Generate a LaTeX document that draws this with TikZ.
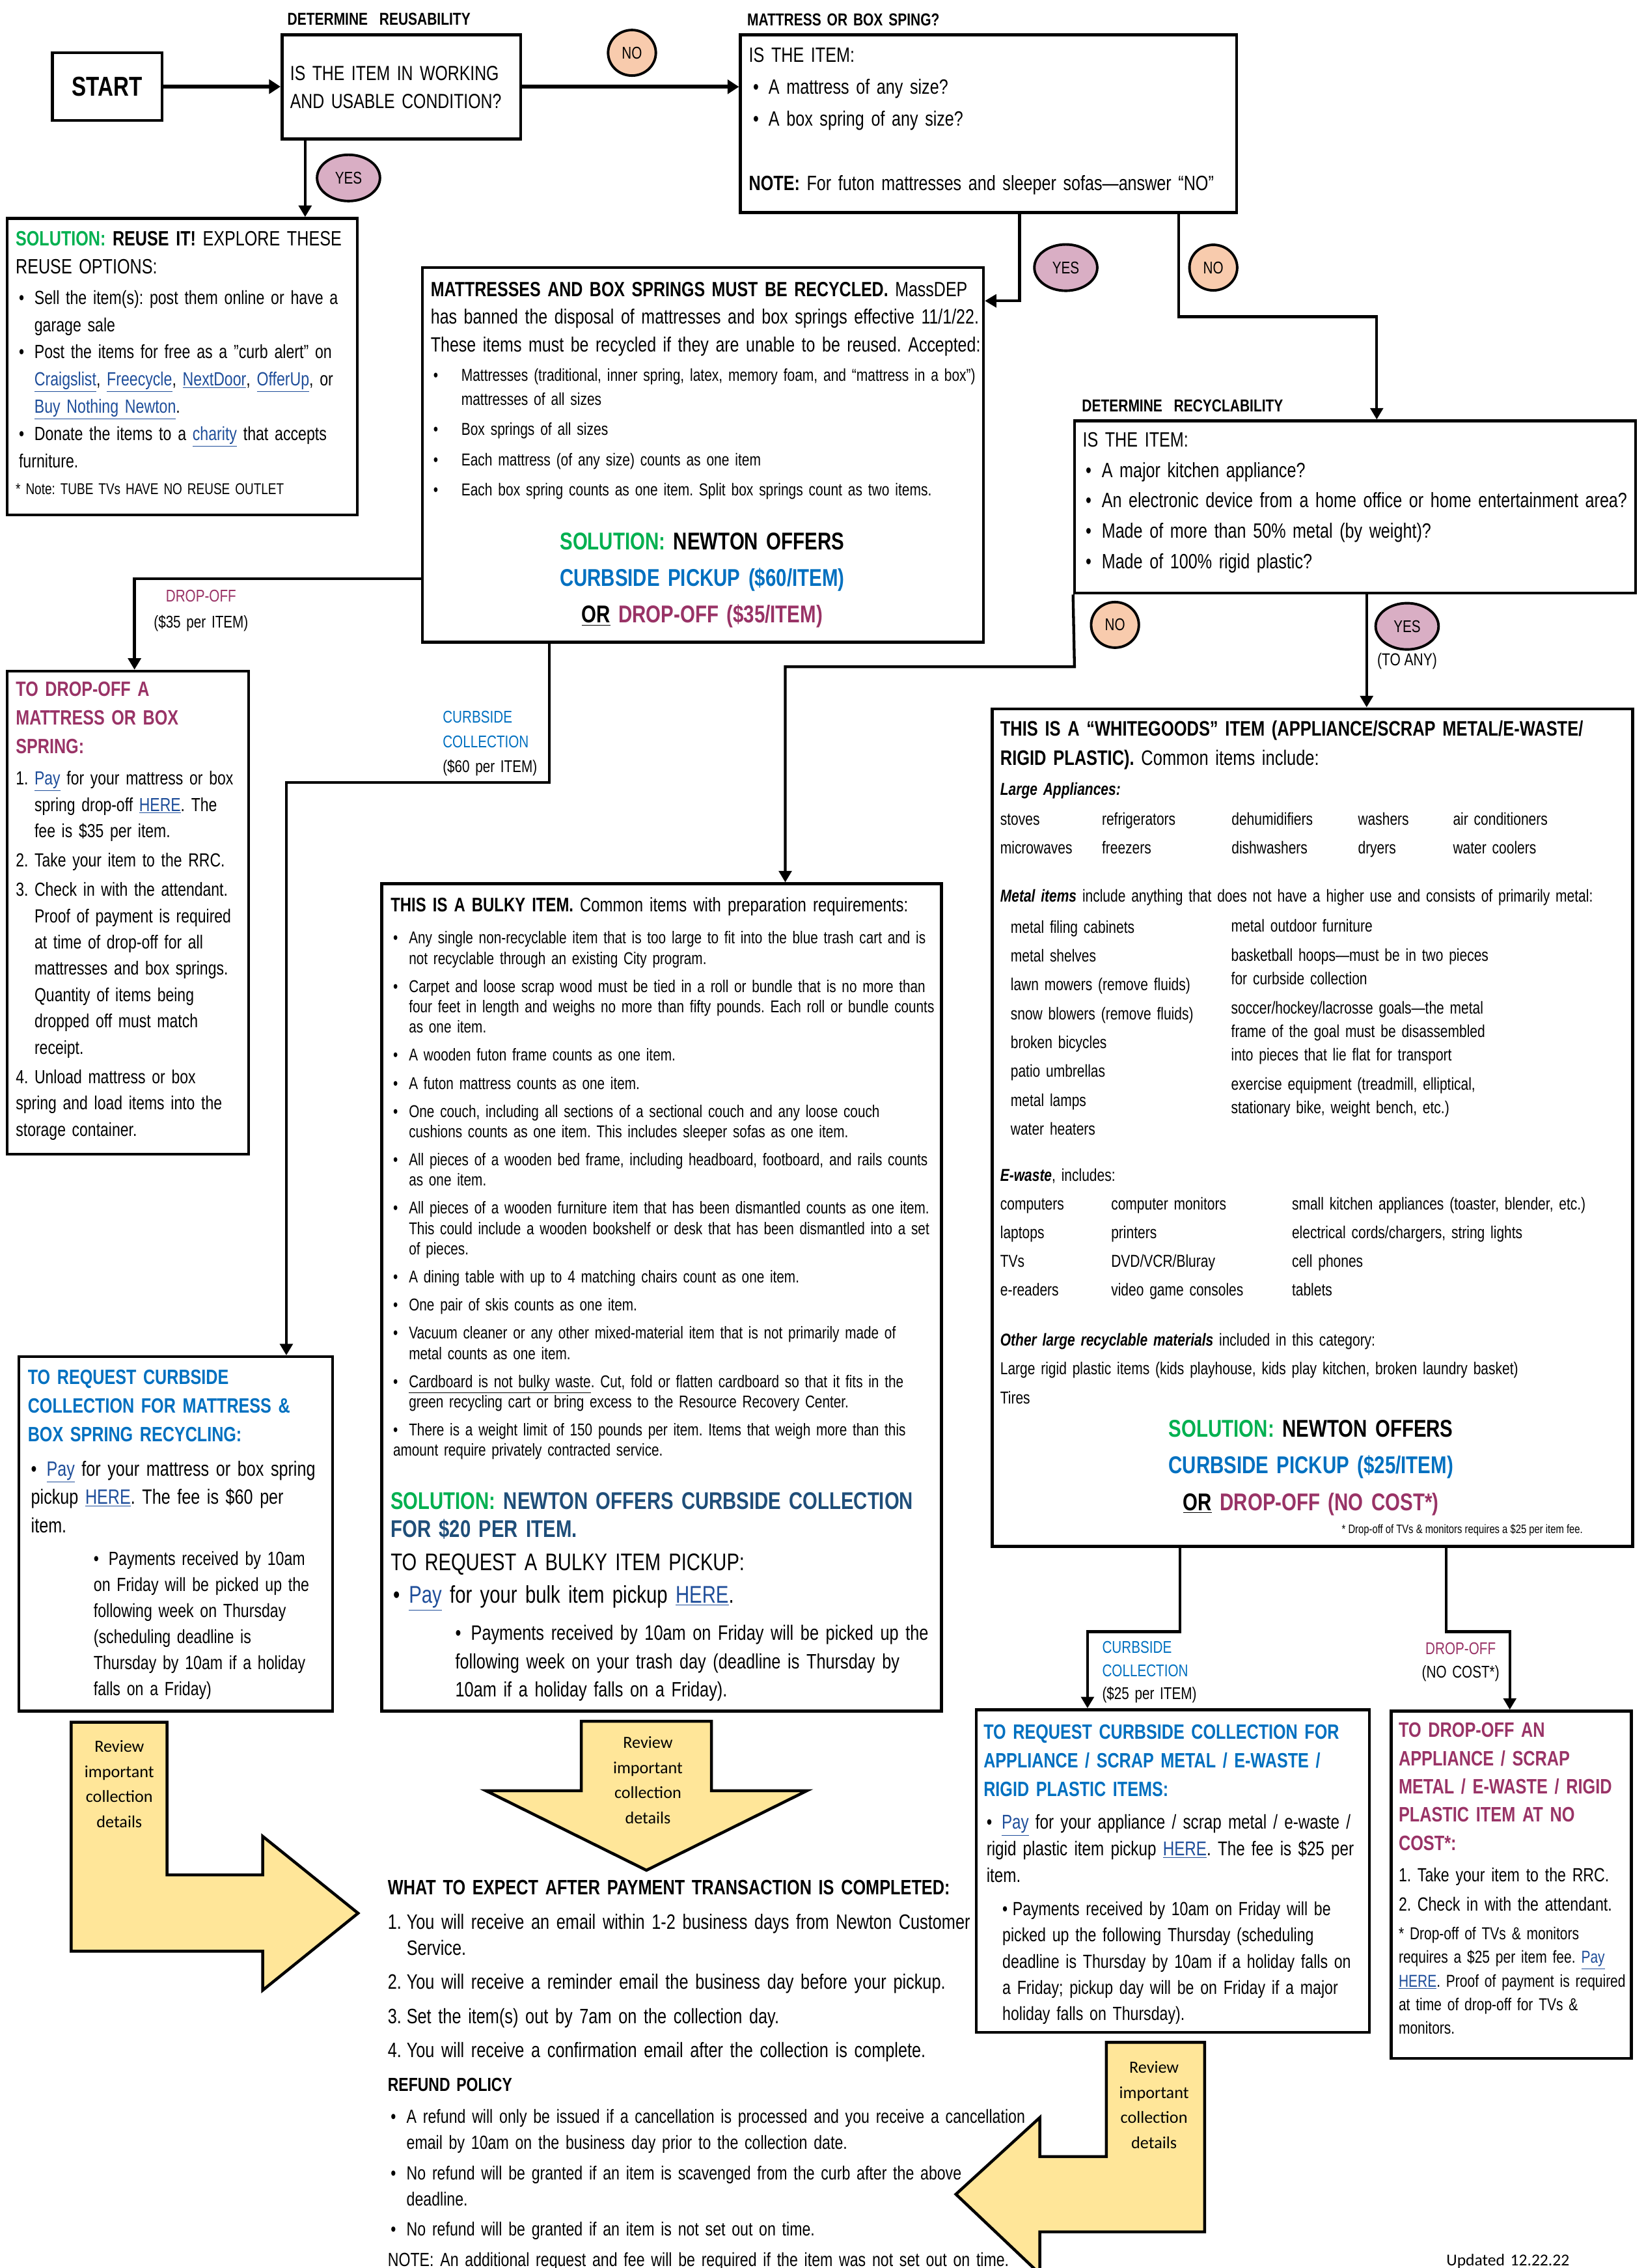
\documentclass[tikz,border=0pt]{standalone}
\usepackage{fontspec}
\setmainfont[FakeStretch=0.79]{Liberation Sans}
\newfontfamily\calfont{Carlito}
\usetikzlibrary{positioning,arrows.meta,fit,shapes.geometric}

\definecolor{solgreen}{HTML}{00B050}
\definecolor{curbblue}{HTML}{0070C0}
\definecolor{dropmag}{HTML}{993366}
\definecolor{navyblue}{HTML}{1F4E79}
\definecolor{linkblue}{HTML}{1F4E9A}
\definecolor{yesfill}{HTML}{D9AEC4}
\definecolor{nofill}{HTML}{F8CBAD}
\definecolor{arrowyellow}{HTML}{FFE699}

\newcommand\fs[2]{\fontsize{#1pt}{#2pt}\selectfont}
\newcommand\lnk[1]{\textcolor{linkblue}{\underline{#1}}}
\newcommand\bult[2]{\makebox[#2][l]{\hspace*{#1}\textbullet}}
\newcommand\firstitem[3]{\hangindent=#1\hangafter=1 \makebox[#1][l]{#2}#3}
\newcommand\nextitem[3]{\par\firstitem{#1}{#2}{#3}}

\frenchspacing
\hyphenpenalty=10000
\exhyphenpenalty=10000

\begin{document}
\begin{tikzpicture}[x=0.04cm, y=-0.04cm,
  box/.style={draw, line width=2.3pt, inner sep=0pt},
  flow/.style={line width=2.2pt, -{Triangle[length=9pt,width=10pt]}},
  flowbig/.style={line width=3.2pt, -{Triangle[length=9pt,width=11pt]}},
  txt/.style={anchor=base west, inner sep=0pt, align=left, text width=#1},
  ctxt/.style={anchor=base, inner sep=0pt, align=center, text width=#1},
  yesmark/.style={ellipse, draw, line width=2pt, fill=yesfill, inner sep=0pt,
    minimum width=1.74cm, minimum height=1.28cm, font=\fs{13.4}{16}},
  nomark/.style={ellipse, draw, line width=2pt, fill=nofill, inner sep=0pt,
    minimum width=1.32cm, minimum height=1.26cm, font=\fs{13.4}{16}},
  yellowarrow/.style={draw, line width=2.3pt, fill=arrowyellow, line join=miter},
  review/.style={ctxt=2.6cm, font=\calfont\fs{13.4}{19.7}}]

\useasboundingbox (0,0) rectangle (1138,1568);
\fill[white] (0,0) rectangle (1138,1568);

% headings over the question boxes
\node[txt=7cm, font=\bfseries\fs{13.6}{16}] (lblreuse) at (198.6,17.3) {DETERMINE\ \ REUSABILITY};
\node[txt=7cm, font=\bfseries\fs{13.6}{16}] (lblmatt) at (516.5,17.6) {MATTRESS OR BOX SPING?};
\node[txt=7cm, font=\bfseries\fs{13.6}{16}] (lblrecyc) at (748,284.5) {DETERMINE\ \ RECYCLABILITY};

% boxes
\node[box, minimum width=3.03cm, minimum height=1.87cm, font=\bfseries\fs{21.5}{25}] (start) at (74.2,59.9) {START};
\node[box, fit={(195,24) (360,96)}] (q1) {};
\node[box, fit={(512,24) (855,147)}] (m1) {};
\node[box, fit={(5,151) (247,356)}] (reuse) {};
\node[box, fit={(292,185) (680,444)}] (mr) {};
\node[box, fit={(743,291) (1131,410)}] (rc) {};
\node[box, fit={(5,464) (172,798)}] (dm) {};
\node[box, fit={(13,938) (230,1183)}] (cm) {};
\node[box, fit={(264,611) (651,1183)}] (bulky) {};
\node[box, fit={(686,490) (1129,1069)}] (wg) {};
\node[box, fit={(675,1182) (947,1405)}] (ca) {};
\node[box, fit={(962,1183) (1128,1423)}] (da) {};

% connectors
\draw[flowbig] (start.east) -- (q1.west |- start.east);
\draw[flowbig] (q1.east) -- (m1.west |- q1.east);

\coordinate (reusex) at (211,0);
\draw[flow] (q1.south -| reusex) -- (reuse.north -| reusex);

\coordinate (yesbend) at (705,208);
\draw[flow] (m1.south -| yesbend) -- (yesbend) -- (mr.east |- yesbend);

\coordinate (nobendA) at (815,219);
\coordinate (nobendB) at (952,219);
\draw[flow] (m1.south -| nobendA) -- (nobendA) -- (nobendB) -- (rc.north -| nobendB);

\coordinate (dropbend) at (93,400);
\draw[flow] (mr.west |- dropbend) -- (dropbend) -- (dm.north -| dropbend);

\coordinate (curbbendA) at (380,541);
\coordinate (curbbendB) at (198,541);
\draw[flow] (mr.south -| curbbendA) -- (curbbendA) -- (curbbendB) -- (cm.north -| curbbendB);

\coordinate (bulkbendA) at (743,461);
\coordinate (bulkbendB) at (543,461);
\draw[flow] (rc.south west) -- (bulkbendA) -- (bulkbendB) -- (bulky.north -| bulkbendB);

\coordinate (wgx) at (945,0);
\draw[flow] (rc.south -| wgx) -- (wg.north -| wgx);

\coordinate (cabendA) at (816,1128);
\coordinate (cabendB) at (752,1128);
\draw[flow] (wg.south -| cabendA) -- (cabendA) -- (cabendB) -- (ca.north -| cabendB);

\coordinate (dabendA) at (1000,1128);
\coordinate (dabendB) at (1044,1128);
\draw[flow] (wg.south -| dabendA) -- (dabendA) -- (dabendB) -- (da.north -| dabendB);

% yes / no marks
\node[nomark] (no1) at (437,36.5) {NO};
\node[yesmark] (yes1) at (241,123) {YES};
\node[yesmark] (yes2) at (737,185) {YES};
\node[nomark] (no2) at (839,185) {NO};
\node[nomark] (no3) at (771,432) {NO};
\node[yesmark] (yes3) at (973,433) {YES};
\node[below=0.06cm of yes3, inner sep=0pt, font=\fs{13.6}{16}] (toany) {(TO ANY)};

% branch labels
\node[ctxt=3cm, font=\fs{13.4}{20.5}] (droplbl) at (139,415.9) {\textcolor{dropmag}{DROP-OFF}\\(\$35 per ITEM)};
\node[txt=3cm, font=\fs{13.4}{19.3}] (curblbl) at (306,499.9) {\textcolor{curbblue}{CURBSIDE}\\\textcolor{curbblue}{COLLECTION}\\(\$60 per ITEM)};
\node[txt=3cm, font=\fs{13.4}{18.2}] (calbl) at (762,1142.9) {\textcolor{curbblue}{CURBSIDE}\\\textcolor{curbblue}{COLLECTION}\\(\$25 per ITEM)};
\node[ctxt=3cm, font=\fs{13.4}{18.2}] (dalbl) at (1010,1143.9) {\textcolor{dropmag}{DROP-OFF}\\(NO COST*)};

% first question
\node[txt=7cm, font=\fs{16.1}{21.9}] (q1text) at (200.5,55.7) {IS THE ITEM IN WORKING\\AND USABLE CONDITION?};

% mattress question
\node[txt=14cm, font=\fs{16.3}{25.2}] (m1text) at (517.7,42.9) {IS THE ITEM:\\
\bult{3.3pt}{15.5pt}A mattress of any size?\\
\bult{3.3pt}{15.5pt}A box spring of any size?\\[25.2pt]
\textbf{NOTE:} For futon mattresses and sleeper sofas—answer “NO”};

% reuse box
\node[txt=10cm, font=\fs{16.3}{22.3}] (reusehead) at (10.7,169.7) {\textcolor{solgreen}{\textbf{SOLUTION:}} \textbf{REUSE IT!} EXPLORE THESE\\REUSE OPTIONS:};
\node[txt=10cm, font=\fs{15}{21.4}] (reuselist) at (12.9,210.3) {%
\firstitem{12.2pt}{\textbullet}{Sell the item(s): post them online or have a\newline garage sale}%
\nextitem{12.2pt}{\textbullet}{Post the items for free as a "curb alert" on\newline \lnk{Craigslist}, \lnk{Freecycle}, \lnk{NextDoor}, \lnk{OfferUp}, or\newline \lnk{Buy Nothing Newton}.}%
\nextitem{12.2pt}{\textbullet}{Donate the items to a \lnk{charity} that accepts\newline furniture.}};
\node[txt=10cm, font=\fs{12.3}{14}] (reusenote) at (10.7,342) {* Note: TUBE TVs HAVE NO REUSE OUTLET};

% mattress recycling box
\node[txt=16cm, font=\fs{16.2}{21.8}] (mrhead) at (297.7,204.9) {\textbf{MATTRESSES AND BOX SPRINGS MUST BE RECYCLED.} MassDEP\\has banned the disposal of mattresses and box springs effective 11/1/22.\\These items must be recycled if they are unable to be reused. Accepted:};
\node[txt=16cm, font=\fs{13.6}{18.7}] (mrlist) at (299.5,263.7) {\setlength\parskip{5pt}%
\firstitem{22pt}{\textbullet}{Mattresses (traditional, inner spring, latex, memory foam, and “mattress in a box”)\newline mattresses of all sizes}%
\nextitem{22pt}{\textbullet}{Box springs of all sizes}%
\nextitem{22pt}{\textbullet}{Each mattress (of any size) counts as one item}%
\nextitem{22pt}{\textbullet}{Each box spring counts as one item. Split box springs count as two items.}};
\node[ctxt=14.4cm, font=\bfseries\fs{19.1}{28.9}] (mrsol) at (485.5,379.9) {\textcolor{solgreen}{SOLUTION:} NEWTON OFFERS\\\textcolor{curbblue}{CURBSIDE PICKUP (\$60/ITEM)}\\\underline{OR} \textcolor{dropmag}{DROP-OFF (\$35/ITEM)}};

% recyclability question
\node[txt=16cm, font=\fs{16.3}{23.9}] (rctext) at (748.5,308.9) {IS THE ITEM:\\
\bult{2.3pt}{15pt}A major kitchen appliance?\\
\bult{2.3pt}{15pt}An electronic device from a home office or home entertainment area?\\
\bult{2.3pt}{15pt}Made of more than 50\% metal (by weight)?\\
\bult{2.3pt}{15pt}Made of 100\% rigid plastic?};

% mattress drop-off box
\node[txt=7.5cm, font=\bfseries\fs{16.3}{22.5}] (dmhead) at (10.8,481.4) {\color{dropmag}TO DROP-OFF A\\MATTRESS OR BOX\\SPRING:};
\node[txt=7.5cm, font=\fs{14.9}{20.7}] (dmlist) at (10.8,542.6) {\setlength\parskip{2.4pt}%
\firstitem{14.7pt}{1.}{\lnk{Pay} for your mattress or box\newline spring drop-off \lnk{HERE}. The\newline fee is \$35 per item.}%
\nextitem{14.7pt}{2.}{Take your item to the RRC.}%
\nextitem{14.7pt}{3.}{Check in with the attendant.\newline Proof of payment is required\newline at time of drop-off for all\newline mattresses and box springs.\newline Quantity of items being\newline dropped off must match\newline receipt.}%
\nextitem{14.7pt}{4.}{Unload mattress or box\newline spring and load items into the\newline storage container.}};

% mattress curbside box
\node[txt=9cm, font=\bfseries\fs{16.3}{22.5}] (cmhead) at (19.1,957.1) {\color{curbblue}TO REQUEST CURBSIDE\\COLLECTION FOR MATTRESS \&\\BOX SPRING RECYCLING:};
\node[txt=9cm, font=\fs{16.3}{22.4}] (cmlist) at (21.3,1020.3) {%
\firstitem{12.2pt}{\textbullet}{\lnk{Pay} for your mattress or box spring\newline pickup \lnk{HERE}. The fee is \$60 per\newline item.}};
\node[txt=7cm, font=\fs{15}{20.5}] (cmsub) at (64.6,1082) {%
\firstitem{11.7pt}{\textbullet}{Payments received by 10am\newline on Friday will be picked up the\newline following week on Thursday\newline (scheduling deadline is\newline Thursday by 10am if a holiday\newline falls on a Friday)}};

% bulky item box
\node[txt=17cm, font=\fs{15.5}{18}] (bkhead) at (270,630.1) {\textbf{THIS IS A BULKY ITEM.} Common items with preparation requirements:};
\node[txt=17cm, font=\fs{13.45}{16.05}] (bklist) at (271.7,652.5) {\setlength\parskip{6pt}%
\firstitem{12.4pt}{\textbullet}{Any single non-recyclable item that is too large to fit into the blue trash cart and is\newline not recyclable through an existing City program.}%
\nextitem{12.4pt}{\textbullet}{Carpet and loose scrap wood must be tied in a roll or bundle that is no more than\newline four feet in length and weighs no more than fifty pounds. Each roll or bundle counts\newline as one item.}%
\nextitem{12.4pt}{\textbullet}{A wooden futon frame counts as one item.}%
\nextitem{12.4pt}{\textbullet}{A futon mattress counts as one item.}%
\nextitem{12.4pt}{\textbullet}{One couch, including all sections of a sectional couch and any loose couch\newline cushions counts as one item. This includes sleeper sofas as one item.}%
\nextitem{12.4pt}{\textbullet}{All pieces of a wooden bed frame, including headboard, footboard, and rails counts\newline as one item.}%
\nextitem{12.4pt}{\textbullet}{All pieces of a wooden furniture item that has been dismantled counts as one item.\newline This could include a wooden bookshelf or desk that has been dismantled into a set\newline of pieces.}%
\nextitem{12.4pt}{\textbullet}{A dining table with up to 4 matching chairs count as one item.}%
\nextitem{12.4pt}{\textbullet}{One pair of skis counts as one item.}%
\nextitem{12.4pt}{\textbullet}{Vacuum cleaner or any other mixed-material item that is not primarily made of\newline metal counts as one item.}%
\nextitem{12.4pt}{\textbullet}{\underline{Cardboard is not bulky waste}. Cut, fold or flatten cardboard so that it fits in the\newline green recycling cart or bring excess to the Resource Recovery Center.}%
\nextitem{12.4pt}{\textbullet}{There is a weight limit of 150 pounds per item. Items that weigh more than this\newline amount require privately contracted service.}};
\node[txt=17cm, font=\bfseries\fs{19}{22.1}] (bksol) at (270,1043.5) {\textcolor{solgreen}{SOLUTION:} {\color{navyblue}NEWTON OFFERS CURBSIDE COLLECTION\\FOR \$20 PER ITEM.}};
\node[txt=17cm, font=\fs{18.9}{22}] (bkreq) at (270,1085.7) {TO REQUEST A BULKY ITEM PICKUP:};
\node[txt=17cm, font=\fs{19}{22}] (bkpay) at (271.7,1108.3) {\bult{0pt}{12.4pt}\lnk{Pay} for your bulk item pickup \lnk{HERE}.};
\node[txt=15cm, font=\fs{16.4}{22.2}] (bksub) at (314.7,1134) {%
\firstitem{12.3pt}{\textbullet}{Payments received by 10am on Friday will be picked up the\newline following week on your trash day (deadline is Thursday by\newline 10am if a holiday falls on a Friday).}};

% whitegoods box
\node[txt=19cm, font=\fs{16.5}{23}] (wghead) at (691.5,508.7) {\textbf{THIS IS A “WHITEGOODS” ITEM (APPLIANCE/SCRAP METAL/E-WASTE/}\\\textbf{RIGID PLASTIC).} Common items include:};
\node[txt=10cm, font=\bfseries\itshape\fs{13.6}{16}] (wglarge) at (691.5,549.9) {Large Appliances:};
\foreach \cx/\ta/\tb [count=\i] in {691.5/stoves/microwaves, 761.8/refrigerators/freezers,
    851.5/dehumidifiers/dishwashers, 938.9/washers/dryers, 1004.6/air conditioners/water coolers}
  \node[txt=4cm, font=\fs{13.6}{22.5}] (appl\i) at (\cx,570.3) {\ta\\\tb};
\node[txt=19cm, font=\fs{13.6}{16}] (wgmetal) at (691.5,623.4) {\textbf{\textit{Metal items}} include anything that does not have a higher use and consists of primarily metal:};
\node[txt=7cm, font=\fs{13.6}{22.7}] (metalleft) at (698.7,645) {metal filing cabinets\\metal shelves\\lawn mowers (remove fluids)\\snow blowers (remove fluids)\\broken bicycles\\patio umbrellas\\metal lamps\\water heaters};
\node[txt=10cm, font=\fs{13.6}{18.5}] (metalright) at (851.2,644.1) {\setlength\parskip{4.5pt}%
metal outdoor furniture\par
basketball hoops—must be in two pieces\newline for curbside collection\par
soccer/hockey/lacrosse goals—the metal\newline frame of the goal must be disassembled\newline into pieces that lie flat for transport\par
exercise equipment (treadmill, elliptical,\newline stationary bike, weight bench, etc.)};
\node[txt=10cm, font=\fs{13.6}{16}] (wgewaste) at (691.5,816.7) {\textbf{\textit{E-waste}}, includes:};
\node[txt=4cm, font=\fs{13.6}{22.5}] (ewaste1) at (691.5,836.3) {computers\\laptops\\TVs\\e-readers};
\node[txt=6cm, font=\fs{13.6}{22.5}] (ewaste2) at (768.2,836.3) {computer monitors\\printers\\DVD/VCR/Bluray\\video game consoles};
\node[txt=10cm, font=\fs{13.6}{22.5}] (ewaste3) at (893.2,836.3) {small kitchen appliances (toaster, blender, etc.)\\electrical cords/chargers, string lights\\cell phones\\tablets};
\node[txt=17cm, font=\fs{13.6}{16}] (wgother) at (691.5,930.6) {\textbf{\textit{Other large recyclable materials}} included in this category:};
\node[txt=19cm, font=\fs{13.6}{22.9}] (wgplastic) at (691.5,950.3) {Large rigid plastic items (kids playhouse, kids play kitchen, broken laundry basket)\\Tires};
\node[ctxt=16cm, font=\bfseries\fs{19.1}{28.9}] (wgsol) at (906.5,993.4) {\textcolor{solgreen}{SOLUTION:} NEWTON OFFERS\\\textcolor{curbblue}{CURBSIDE PICKUP (\$25/ITEM)}\\\underline{OR} \textcolor{dropmag}{DROP-OFF (NO COST*)}};
\node[anchor=base east, inner sep=0pt, font=\fs{9.6}{11}] (wgnote) at (1094.6,1060) {* Drop-off of TVs \& monitors requires a \$25 per item fee.};

% appliance curbside box
\node[txt=11cm, font=\bfseries\fs{16.3}{22.4}] (cahead) at (680,1202.4) {\color{curbblue}TO REQUEST CURBSIDE COLLECTION FOR\\APPLIANCE / SCRAP METAL / E-WASTE /\\RIGID PLASTIC ITEMS:};
\node[txt=11cm, font=\fs{15.7}{21}] (calist) at (682,1264.6) {%
\firstitem{11.9pt}{\textbullet}{\lnk{Pay} for your appliance / scrap metal / e-waste /\newline rigid plastic item pickup \lnk{HERE}. The fee is \$25 per\newline item.}};
\node[txt=11cm, font=\fs{15}{20.6}] (casub) at (693,1324.3) {%
\firstitem{8pt}{\textbullet}{Payments received by 10am on Friday will be\newline picked up the following Thursday (scheduling\newline deadline is Thursday by 10am if a holiday falls on\newline a Friday; pickup day will be on Friday if a major\newline holiday falls on Thursday).}};

% appliance drop-off box
\node[txt=7.5cm, font=\bfseries\fs{16.4}{22.25}] (dahead) at (967,1201) {\color{dropmag}TO DROP-OFF AN\\APPLIANCE / SCRAP\\METAL / E-WASTE / RIGID\\PLASTIC ITEM AT NO\\COST*:};
\node[txt=7.5cm, font=\fs{15}{23}] (dalist) at (967,1300.9) {%
\firstitem{14.8pt}{1.}{Take your item to the RRC.}%
\nextitem{14.8pt}{2.}{Check in with the attendant.}};
\node[txt=7.5cm, font=\fs{13.6}{18.6}] (danote) at (967,1340.9) {* Drop-off of TVs \& monitors\\requires a \$25 per item fee. \lnk{Pay}\\\lnk{HERE}. Proof of payment is required\\at time of drop-off for TVs \&\\monitors.};

% review arrows
\draw[yellowarrow] (49.2,1190.7) -- (115.5,1190.7) -- (115.5,1296.2) -- (181.6,1296.2)
  -- (181.6,1269.5) -- (247.6,1322.7) -- (181.6,1376) -- (181.6,1349) -- (49.2,1349) -- cycle;
\draw[yellowarrow] (402,1190) -- (492,1190) -- (492,1238) -- (558,1238) -- (447,1293)
  -- (336,1238) -- (402,1238) -- cycle;
\draw[yellowarrow] (833,1412) -- (833,1543) -- (719,1543) -- (719,1572) -- (661,1517)
  -- (719,1464) -- (719,1491) -- (765,1491) -- (765,1412) -- cycle;
\node[review] (review1) at (82.5,1211.5) {Review\\important\\collection\\details};
\node[review] (review2) at (448,1208.7) {Review\\important\\collection\\details};
\node[review] (review3) at (798,1433.3) {Review\\important\\collection\\details};

% after payment
\node[txt=20cm, font=\bfseries\fs{16.4}{20}] (whathead) at (268,1309.75) {WHAT TO EXPECT AFTER PAYMENT TRANSACTION IS COMPLETED:};
\node[txt=20cm, font=\fs{16.4}{20.5}] (whatlist) at (268,1333.75) {\setlength\parskip{6.3pt}%
\firstitem{14.8pt}{1.}{You will receive an email within 1-2 business days from Newton Customer\newline Service.}%
\nextitem{14.8pt}{2.}{You will receive a reminder email the business day before your pickup.}%
\nextitem{14.8pt}{3.}{Set the item(s) out by 7am on the collection day.}%
\nextitem{14.8pt}{4.}{You will receive a confirmation email after the collection is complete.}};
\node[txt=10cm, font=\bfseries\fs{14.9}{18}] (refundhead) at (268,1446) {REFUND POLICY};
\node[txt=22cm, font=\fs{15}{20.5}] (refundlist) at (270,1467.8) {\setlength\parskip{3.4pt}%
\firstitem{12.5pt}{\textbullet}{A refund will only be issued if a cancellation is processed and you receive a cancellation\newline email by 10am on the business day prior to the collection date.}%
\nextitem{12.5pt}{\textbullet}{No refund will be granted if an item is scavenged from the curb after the above\newline deadline.}%
\nextitem{12.5pt}{\textbullet}{No refund will be granted if an item is not set out on time.}};
\node[txt=22cm, font=\fs{15}{18}] (refundnote) at (268,1566.8) {NOTE: An additional request and fee will be required if the item was not set out on time.};

\node[txt=4cm, font=\calfont\fs{13.1}{16}] (updated) at (1000,1566.6) {Updated 12.22.22};

\end{tikzpicture}
\end{document}
